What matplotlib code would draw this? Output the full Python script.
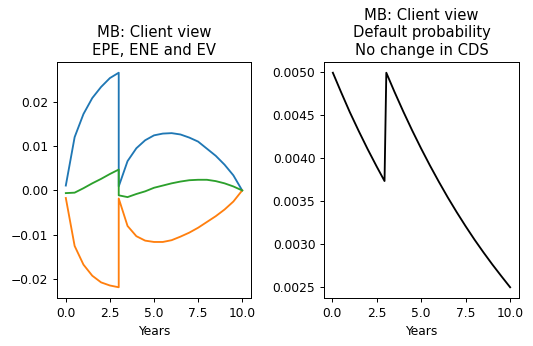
import matplotlib
matplotlib.use("Agg")
import matplotlib.pyplot as plt

# Left panel: exposures (EPE, ENE, EV)
years_exp = [0.0, 0.5, 1.0, 1.5, 2.0, 2.5, 3.0,
             3.0, 3.5, 4.0, 4.5, 5.0, 5.5, 6.0, 6.5, 7.0, 7.5, 8.0, 8.5, 9.0, 9.5, 10.0]
epe = [0.0011, 0.0120, 0.0172, 0.0208, 0.0233, 0.0253, 0.0265,
       0.0009, 0.0066, 0.0095, 0.0113, 0.0124, 0.0128, 0.0129, 0.0126, 0.0119, 0.0110,
       0.0094, 0.0078, 0.0058, 0.0034, 0.0]
ene = [-0.0017, -0.0125, -0.0167, -0.0192, -0.0207, -0.0214, -0.0218,
       -0.0018, -0.0080, -0.0103, -0.0113, -0.0116, -0.0116, -0.0112, -0.0104, -0.0095, -0.0084,
       -0.0071, -0.0058, -0.0043, -0.0025, 0.0]
ev = [-0.0006, -0.0005, 0.0005, 0.0016, 0.0026, 0.0037, 0.0047,
      -0.0011, -0.0015, -0.0008, -0.0002, 0.0006, 0.0011, 0.0016, 0.0020, 0.0023, 0.0024,
      0.0024, 0.0021, 0.0016, 0.0009, 0.0]

# Right panel: default probability
years_pd = [0.05, 0.5, 1.0, 1.5, 2.0, 2.5, 2.95,
            3.05, 3.5, 4.0, 4.5, 5.0, 5.5, 6.0, 6.5, 7.0, 7.5, 8.0, 8.5, 9.0, 9.5, 10.0]
pd_vals = [0.004990, 0.004770, 0.004533, 0.004314, 0.004104, 0.003905, 0.003733,
           0.004990, 0.004772, 0.004541, 0.004321, 0.004112, 0.003913, 0.003724, 0.003543,
           0.003372, 0.003209, 0.003053, 0.002906, 0.002765, 0.002631, 0.002500]

DPI = 88.5
fig = plt.figure(figsize=(533 / DPI, 346 / DPI), dpi=DPI)

ax1 = fig.add_axes([57 / 533, 48 / 346, 194 / 533, 236 / 346])
ax1.plot(years_exp, epe)
ax1.plot(years_exp, ene)
ax1.plot(years_exp, ev)
ax1.set_title("MB: Client view\nEPE, ENE and EV")
ax1.set_xlabel("Years")

ax2 = fig.add_axes([324 / 533, 48 / 346, 195 / 533, 236 / 346])
ax2.plot(years_pd, pd_vals, color="black")
ax2.set_title("MB: Client view\nDefault probability\nNo change in CDS")
ax2.set_xlabel("Years")

fig.savefig("out.png", dpi=DPI)
